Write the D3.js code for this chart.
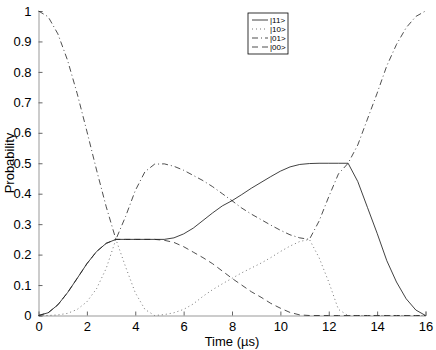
<!DOCTYPE html>
<html><head><meta charset="utf-8">
<script src="https://cdn.jsdelivr.net/npm/d3@7/dist/d3.min.js"></script>
<style>
html,body{margin:0;padding:0;background:#fff;}
svg{display:block;font-family:"Liberation Sans",Arial,Helvetica,sans-serif;}
</style></head>
<body>
<svg id="chart" width="436" height="350"></svg>
<script>
// time grid (µs)
const times = [0,0.4,0.8,1.2,1.6,2.0,2.4,2.8,3.2,3.6,4.0,4.4,4.8,5.2,5.6,6.0,6.4,6.8,7.2,7.6,8.0,8.4,8.8,9.2,9.6,10.0,10.4,10.8,11.2,11.6,12.0,12.4,12.8,13.2,13.6,14.0,14.4,14.8,15.2,15.6,16.0];
// |11>
const p11 = [0,0.009,0.035,0.075,0.122,0.17,0.21,0.237,0.25,0.25,0.25,0.25,0.25,0.25,0.255,0.268,0.287,0.312,0.337,0.36,0.377,0.397,0.418,0.437,0.456,0.474,0.488,0.496,0.499,0.5,0.5,0.5,0.5,0.44,0.355,0.27,0.18,0.11,0.055,0.018,0];
// |10>
const p10 = [0,0.0001,0.002,0.007,0.02,0.045,0.088,0.155,0.25,0.16,0.075,0.02,0,0.003,0.009,0.02,0.038,0.063,0.085,0.104,0.122,0.14,0.156,0.172,0.19,0.21,0.228,0.243,0.25,0.19,0.11,0.02,0,0,0,0,0,0,0,0,0];
// |01>
const p01 = [1,0.981,0.925,0.8385,0.7286,0.605,0.478,0.357,0.25,0.325,0.41,0.472,0.497,0.498,0.49,0.477,0.46,0.443,0.423,0.40,0.377,0.353,0.333,0.315,0.297,0.28,0.265,0.255,0.25,0.31,0.39,0.465,0.5,0.56,0.645,0.73,0.82,0.89,0.945,0.982,1];
// |00>
const p00 = [0,0.009,0.035,0.075,0.122,0.17,0.21,0.237,0.25,0.25,0.25,0.25,0.25,0.247,0.24,0.226,0.208,0.19,0.17,0.146,0.122,0.1,0.078,0.06,0.04,0.024,0.01,0.002,0,0,0,0,0,0,0,0,0,0,0,0,0];

const seriesNames = ["|11>","|10>","|01>","|00>"];
const seriesValues = [p11,p10,p01,p00];
const xTicks = [0,2,4,6,8,10,12,14,16];
const yTicks = [0,0.1,0.2,0.3,0.4,0.5,0.6,0.7,0.8,0.9,1];
const xLabel = "Time (\u00b5s)";
const yLabel = "Probability";

const styles = [
  {dash:null, color:"#111", w:0.8},
  {dash:"1,3", color:"#666", w:0.9},
  {dash:"6,3,1,3", color:"#222", w:0.8},
  {dash:"6,4", color:"#222", w:0.8}
];

const svg = d3.select("#chart");
const x = d3.scaleLinear().domain([0,16]).range([38.5,425.5]);
const y = d3.scaleLinear().domain([0,1]).range([315.5,11]);

// axes
const xAxis = d3.axisBottom(x).tickValues(xTicks).tickSize(-4).tickPadding(8).tickFormat(d3.format("d"));
const yAxis = d3.axisLeft(y).tickValues(yTicks).tickSize(-4).tickPadding(7).tickFormat(d => d===0?"0":d===1?"1":d3.format(".1f")(d));

const gx = svg.append("g").attr("transform","translate(0,315.5)").call(xAxis);
const gy = svg.append("g").attr("transform","translate(38.5,0)").call(yAxis);
[gx,gy].forEach(g=>{
  g.select(".domain").attr("stroke","#999").attr("stroke-width",1);
  g.selectAll(".tick line").attr("stroke","#666").attr("stroke-width",1);
  g.selectAll(".tick text").attr("fill","#000").style("font-size","13px").style("font-family","'Liberation Sans',Arial,sans-serif");
});
gx.selectAll(".tick text").attr("dy","0.6em");

// lines
const line = d3.line().x((d,i)=>x(times[i])).y(d=>y(d)).curve(d3.curveLinear);
seriesValues.forEach((vals,k)=>{
  const s = styles[k];
  svg.append("path").datum(vals)
    .attr("d",line)
    .attr("fill","none")
    .attr("stroke",s.color)
    .attr("stroke-width",s.w)
    .attr("stroke-dasharray",s.dash);
});

// axis labels
svg.append("text").attr("x",232).attr("y",346).attr("text-anchor","middle")
  .style("font-size","13px").text(xLabel);
svg.append("text").attr("transform","rotate(-90)").attr("x",-163).attr("y",14)
  .attr("text-anchor","middle").style("font-size","13px").text(yLabel);

// legend
const lg = svg.append("g").attr("transform","translate(248,13)");
lg.append("rect").attr("x",0).attr("y",0).attr("width",40).attr("height",41)
  .attr("fill","#fff").attr("stroke","#000").attr("stroke-width",0.8);
seriesNames.forEach((n,k)=>{
  const yy = 7 + k*9;
  const s = styles[k];
  lg.append("line").attr("x1",4).attr("x2",20).attr("y1",yy).attr("y2",yy)
    .attr("stroke",s.color).attr("stroke-width",s.w).attr("stroke-dasharray",s.dash);
  lg.append("text").attr("x",22).attr("y",yy+3).style("font-size","8px").text(n);
});
</script>
</body></html>
